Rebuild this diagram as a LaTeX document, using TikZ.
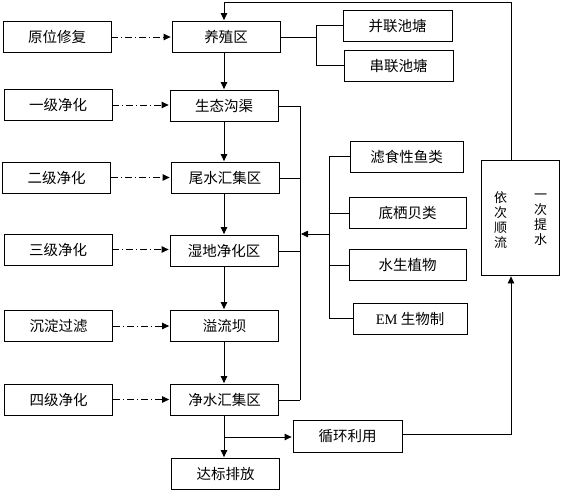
\documentclass[tikz,border=0pt]{standalone}
\usepackage{fontspec}
\setmainfont{Noto Sans CJK SC}
\newfontfamily\latserif{Liberation Serif}
\usetikzlibrary{arrows.meta}
\tikzset{
  box/.style={draw, line width=0.8pt, minimum width=108pt, minimum height=31pt, inner sep=0pt, font=\fontsize{14.5pt}{16pt}\selectfont},
  ln/.style={line width=0.8pt},
  arr/.style={line width=0.8pt, -{Triangle[length=7pt,width=6.5pt]}, shorten >=1pt},
  dd/.style={line width=0.8pt, dash pattern=on 7pt off 3pt on 1pt off 3pt, -{Triangle[length=7pt,width=6.5pt]}, shorten >=1pt},
}
\begin{document}
\begin{tikzpicture}[x=1pt,y=-1pt]
\useasboundingbox (0,0) rectangle (567,497);
% left boxes
\node[box] (L1) at (57,37) {原位修复};
\node[box] (L2) at (58,105) {一级净化};
\node[box] (L3) at (56.5,177.5) {二级净化};
\node[box] (L4) at (58,249.5) {三级净化};
\node[box] (L5) at (58.5,326) {沉淀过滤};
\node[box] (L6) at (58.5,399.5) {四级净化};
% center boxes
\node[box] (C1) at (226,37) {养殖区};
\node[box] (C2) at (224,106) {生态沟渠};
\node[box] (C3) at (225,178) {尾水汇集区};
\node[box] (C4) at (224,251) {湿地净化区};
\node[box] (C5) at (224.5,326) {溢流坝};
\node[box] (C6) at (224.5,400) {净水汇集区};
\node[box] (C7) at (225.5,474) {达标排放};
% pond boxes
\node[box, minimum width=109pt] (R1) at (397.5,25.5) {并联池塘};
\node[box, minimum width=109pt] (R2) at (398.5,65.5) {串联池塘};
% organism boxes
\node[box, minimum width=113pt] (F1) at (406.5,156.5) {滤食性鱼类};
\node[box, minimum width=117pt] (F2) at (407.5,213) {底栖贝类};
\node[box, minimum width=117pt] (F3) at (407.5,265) {水生植物};
\node[box, minimum width=114pt] (F4) at (410,318.5) {{\latserif EM} 生物制};
% recycle
\node[box, minimum width=109pt, minimum height=32pt] (Rc) at (347.5,436) {循环利用};
% right box
\node[draw, line width=0.8pt, minimum width=78pt, minimum height=115pt, inner sep=0pt] (V) at (520,217.5) {};
\node[align=center, inner sep=0pt, font=\fontsize{13pt}{15pt}\selectfont] (V1) at (500.7,220) {依\\次\\顺\\流};
\node[align=center, inner sep=0pt, font=\fontsize{13pt}{15pt}\selectfont] (V2) at (540.7,220) {一\\次\\提\\水};
% coordinates
\coordinate (top) at (511,2);
\coordinate (tx) at (224,2);
\coordinate (busR) at (300,106);
\coordinate (busRb) at (300,400);
\coordinate (pb) at (316,37);
\coordinate (fb) at (329,234);
\coordinate (fa) at (300,234);
\coordinate (br) at (224,437);
\coordinate (rr) at (511,434);
% dash-dot arrows
\foreach \i in {1,...,6} {
  \draw[dd] (L\i.east) -- (L\i.east -| C\i.west);
}
% vertical main flow
\draw[arr] (C1.south -| tx) -- (C2.north -| tx);
\draw[arr] (C2.south -| tx) -- (C3.north -| tx);
\draw[arr] (C3.south -| tx) -- (C4.north -| tx);
\draw[arr] (C4.south -| tx) -- (C5.north -| tx);
\draw[arr] (C5.south -| tx) -- (C6.north -| tx);
\draw[arr] (C6.south -| tx) -- (C7.north -| tx);
% top return line
\draw[arr] (V.north -| top) -- (top) -- (tx) -- (C1.north -| tx);
% ponds
\draw[ln] (C1.east) -- (pb);
\draw[ln] (pb |- R1.west) -- (pb |- R2.west);
\draw[ln] (pb |- R1.west) -- (R1.west);
\draw[ln] (pb |- R2.west) -- (R2.west);
% right bus
\draw[ln] (C2.east) -- (busR);
\draw[ln] (C3.east) -- (C3.east -| busR);
\draw[ln] (C4.east) -- (C4.east -| busR);
\draw[ln] (C6.east) -- (busRb);
\draw[ln] (busR) -- (busRb);
% organism bus
\draw[ln] (fb |- F1.west) -- (fb |- F4.west);
\foreach \i in {1,...,4} { \draw[ln] (fb |- F\i.west) -- (F\i.west); }
\draw[arr] (fb) -- (fa);
% recycle
\draw[arr] (br) -- (br -| Rc.west);
\draw[arr] (Rc.east |- rr) -- (rr) -- (V.south -| rr);
\end{tikzpicture}
\end{document}
